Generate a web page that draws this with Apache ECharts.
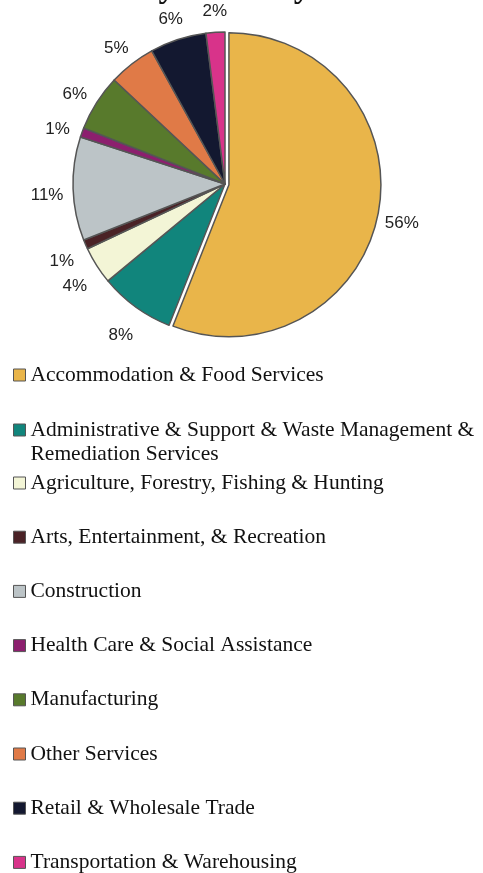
<!DOCTYPE html>
<html>
<head>
<meta charset="utf-8">
<script src="https://cdn.jsdelivr.net/npm/echarts@6/dist/echarts.min.js"></script>
<style>html,body{margin:0;padding:0;background:#fff;}#c{width:483px;height:873px;}</style>
</head>
<body>
<div id="c"></div>
<script>
const titleText = 'Jobs by Industry 2012';
const categories = [
  'Accommodation & Food Services',
  'Administrative & Support & Waste Management &\nRemediation Services',
  'Agriculture, Forestry, Fishing & Hunting',
  'Arts, Entertainment, & Recreation',
  'Construction',
  'Health Care & Social Assistance',
  'Manufacturing',
  'Other Services',
  'Retail & Wholesale Trade',
  'Transportation & Warehousing'
];
const shares = [56, 8, 4, 1, 11, 1, 6, 5, 6, 2];
const colors = ['#E9B54A', '#11857C', '#F3F5D6', '#4A2226', '#BCC4C7', '#8C1F6E', '#587A2C', '#E07A47', '#131830', '#D8338A'];

const chart = echarts.init(document.getElementById('c'), null, {renderer: 'canvas'});
const legendText = {fontFamily: '"Liberation Serif", "Times New Roman", serif', fontSize: 21.5, color: '#111', lineHeight: 24};
const legendBase = {
  orient: 'vertical', left: 13, padding: 0, itemWidth: 12, itemHeight: 12, itemGap: 30.2,
  icon: 'rect', selectedMode: false,
  itemStyle: {borderColor: '#555', borderWidth: 1},
  textStyle: legendText
};
const pieCenter = [225, 184];
const labelCenter = [226, 190];
chart.setOption({
  animation: false,
  title: {
    text: titleText, left: 60, top: -34, padding: 5,
    textStyle: {fontFamily: '"Liberation Serif", serif', fontWeight: 'bold', fontSize: 34, color: '#111'}
  },
  legend: [
    Object.assign({}, legendBase, {top: 363, data: [categories[0]]}),
    Object.assign({}, legendBase, {top: 394, data: [categories[1]], formatter: '\n{name}'}),
    Object.assign({}, legendBase, {top: 471, height: 420, data: categories.slice(2)})
  ],
  series: [{
    type: 'pie',
    center: pieCenter,
    radius: 152,
    startAngle: 90,
    clockwise: true,
    selectedMode: 'single',
    selectedOffset: 4,
    itemStyle: {borderColor: '#555', borderWidth: 1.5},
    label: {show: false},
    labelLine: {show: false},
    emphasis: {disabled: true},
    data: categories.map((n, i) => ({
      name: n, value: shares[i], selected: i === 0,
      itemStyle: {color: colors[i]}
    }))
  }, {
    type: 'pie',
    center: labelCenter,
    radius: [166, 186],
    startAngle: 90,
    clockwise: true,
    silent: true,
    z: 1,
    itemStyle: {color: 'rgba(0,0,0,0)', borderWidth: 0},
    label: {
      show: true, position: 'inside', formatter: '{c}%',
      fontFamily: '"Liberation Sans", Arial, sans-serif', fontSize: 17, color: '#222'
    },
    labelLine: {show: false},
    emphasis: {disabled: true},
    data: shares.map((v, i) => ({name: 'label' + i, value: v}))
  }]
});
</script>
</body>
</html>
